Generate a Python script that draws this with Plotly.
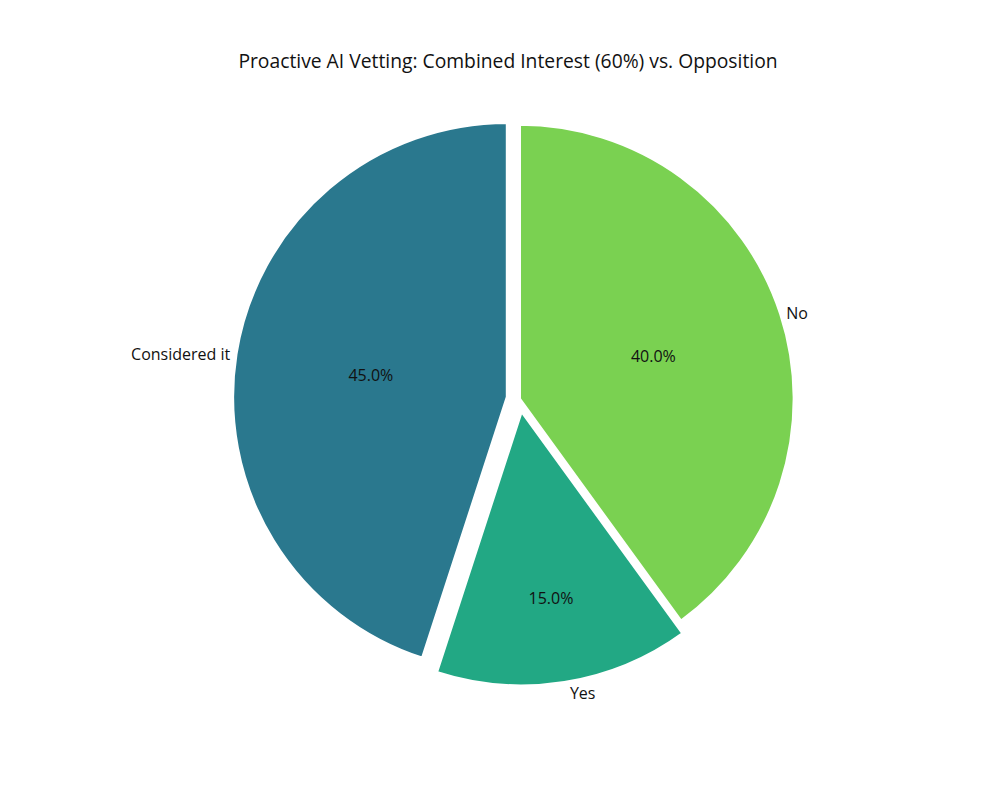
import plotly.graph_objects as go

labels = ["No", "Yes", "Considered it"]
values = [40, 15, 45]
colors = ["#7ad151", "#22a884", "#2a788e"]
pulls = [0, 0.045, 0.045]

title = "Proactive AI Vetting: Combined Interest (60%) vs. Opposition"

font_family = "Open Sans, Roboto, DejaVu Sans, sans-serif"

fig = go.Figure()

# slices with percentages inside
fig.add_trace(
    go.Pie(
        labels=labels,
        values=values,
        sort=False,
        direction="clockwise",
        rotation=0,
        pull=pulls,
        marker=dict(colors=colors, line=dict(color="white", width=3)),
        texttemplate="%{percent:.1%}",
        textposition="inside",
        insidetextorientation="horizontal",
        textfont=dict(size=16, color="#111111"),
        showlegend=False,
        hoverinfo="label+percent",
    )
)

# transparent copy carrying the outside category labels
fig.add_trace(
    go.Pie(
        labels=labels,
        values=values,
        sort=False,
        direction="clockwise",
        rotation=0,
        pull=pulls,
        marker=dict(colors=["rgba(0,0,0,0)"] * 3, line=dict(width=0)),
        texttemplate="%{label}",
        textposition="outside",
        textfont=dict(size=16, color="#111111"),
        showlegend=False,
        hoverinfo="skip",
    )
)

fig.update_layout(
    width=1000,
    height=800,
    title=dict(text=title, x=0.5, y=0.934, xanchor="center", yanchor="middle",
               font=dict(size=19.3, color="#111111")),
    font=dict(family=font_family),
    margin=dict(t=104, b=122, l=81, r=155),
    paper_bgcolor="white",
    plot_bgcolor="white",
)

fig.write_html("out.html")
